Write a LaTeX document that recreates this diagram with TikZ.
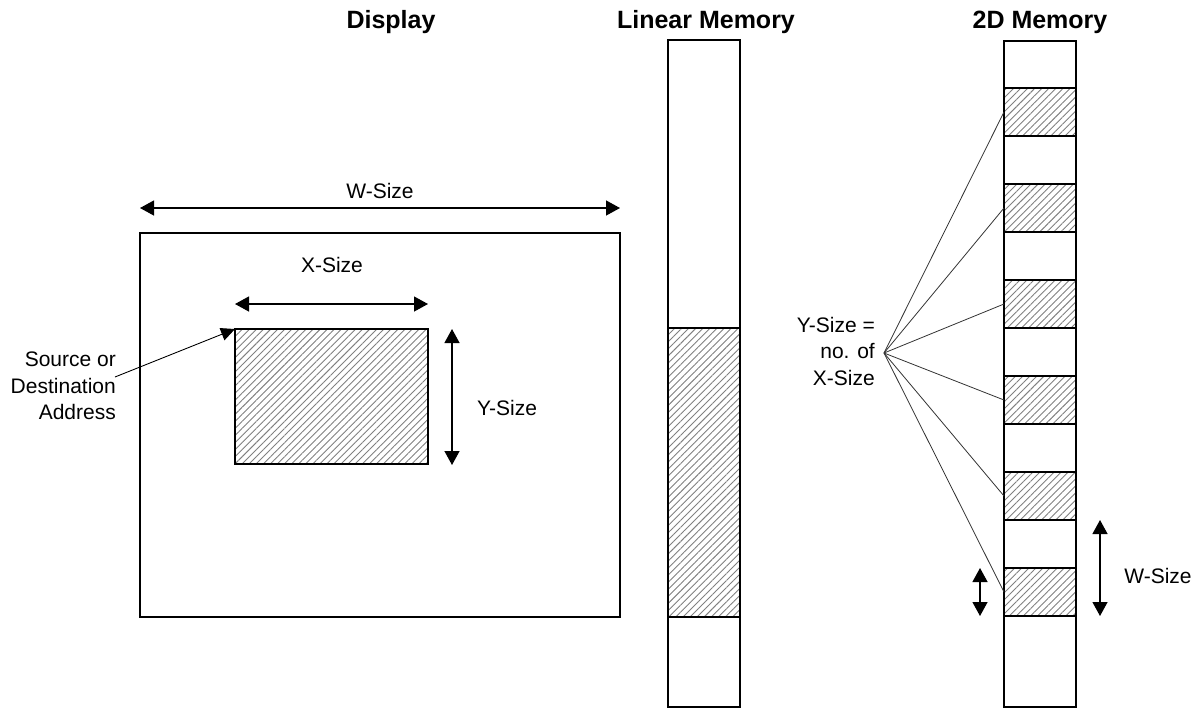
\documentclass[tikz,border=0pt]{standalone}
\usepackage{fontspec}
\setmainfont{Liberation Sans}
\usetikzlibrary{arrows.meta,patterns.meta}
\tikzset{
  lbl/.style={font=\fontsize{21}{26.5}\selectfont, inner sep=0pt, align=right},
  ttl/.style={font=\fontsize{25}{30}\selectfont\bfseries, inner sep=0pt, anchor=base},
  dim/.style={line width=1.3pt, {Triangle[length=14pt,width=15pt]}-{Triangle[length=14pt,width=15pt]}},
  hatch/.style={pattern={Lines[angle=45,distance=5pt,line width=0.9pt]}, pattern color=black!50},
  mem/.style={line width=1.2pt},
  fan/.style={line width=0.8pt, draw=black!80},
  box/.style={draw, inner sep=0pt, outer sep=0pt, anchor=north west},
}
\begin{document}
\begin{tikzpicture}[x=1pt,y=-1pt]
\useasboundingbox (0,0) rectangle (1198,713);

% titles
\node[ttl] (tdisp) at (391,28) {Display};
\node[ttl] (tlin) at (706,28) {Linear Memory};
\node[ttl] (t2d) at (1040,28) {2D Memory};

% display
\node[box, line width=2pt, minimum width=480pt, minimum height=384pt] (disp) at (140,233) {};
\node[box, hatch, line width=2pt, minimum width=193pt, minimum height=135pt] (win) at (235,329) {};

% W-Size arrow
\coordinate (wl) at (140,208);
\coordinate (wr) at (620,208);
\draw[dim] (wl) -- (wr);
\node[lbl, anchor=base] (wlab) at (380,198) {W-Size};

% X-Size arrow
\coordinate (xl) at (235,304);
\coordinate (xr) at (428,304);
\draw[dim] (xl) -- (xr);
\node[lbl, anchor=base] (xlab) at (332,272) {X-Size};

% Y-Size arrow
\coordinate (yt) at (452,329);
\coordinate (yb) at (452,465);
\draw[dim] (yt) -- (yb);
\node[lbl, anchor=base] (ylab) at (507,415) {Y-Size};

% source address
\node[lbl, anchor=east] (src) at (116,386) {Source or\\Destination\\Address};
\coordinate (srcp) at (115,377);
\draw[line width=0.9pt, -{Triangle[length=14pt,width=13pt]}] (srcp) -- (win.north west);

% linear memory
\node[box, hatch, mem, minimum width=72pt, minimum height=289pt] (linh) at (668,328) {};
\node[box, mem, minimum width=72pt, minimum height=667pt] (lin) at (668,40) {};

% 2D memory
\foreach \k in {0,...,5} {
  \node[box, hatch, mem, minimum width=72pt, minimum height=48pt] (h\k) at (1004,{88+96*\k}) {};
}
\node[box, mem, minimum width=72pt, minimum height=666pt] (mem2) at (1004,41) {};

% fan
\node[lbl, anchor=east] (ysz) at (875,351) {Y-Size =\\no. of\\X-Size};
\coordinate (fan) at (884,353);
\foreach \k in {0,...,5} {
  \draw[fan] (fan) -- (h\k.west);
}

% small arrows
\coordinate (sa) at (980,568);
\coordinate (sb) at (980,616);
\draw[dim] (sa) -- (sb);
\coordinate (wt) at (1100,520);
\coordinate (wb) at (1100,616);
\draw[dim] (wt) -- (wb);
\node[lbl, anchor=base] (w2lab) at (1158,583) {W-Size};
\end{tikzpicture}
\end{document}
